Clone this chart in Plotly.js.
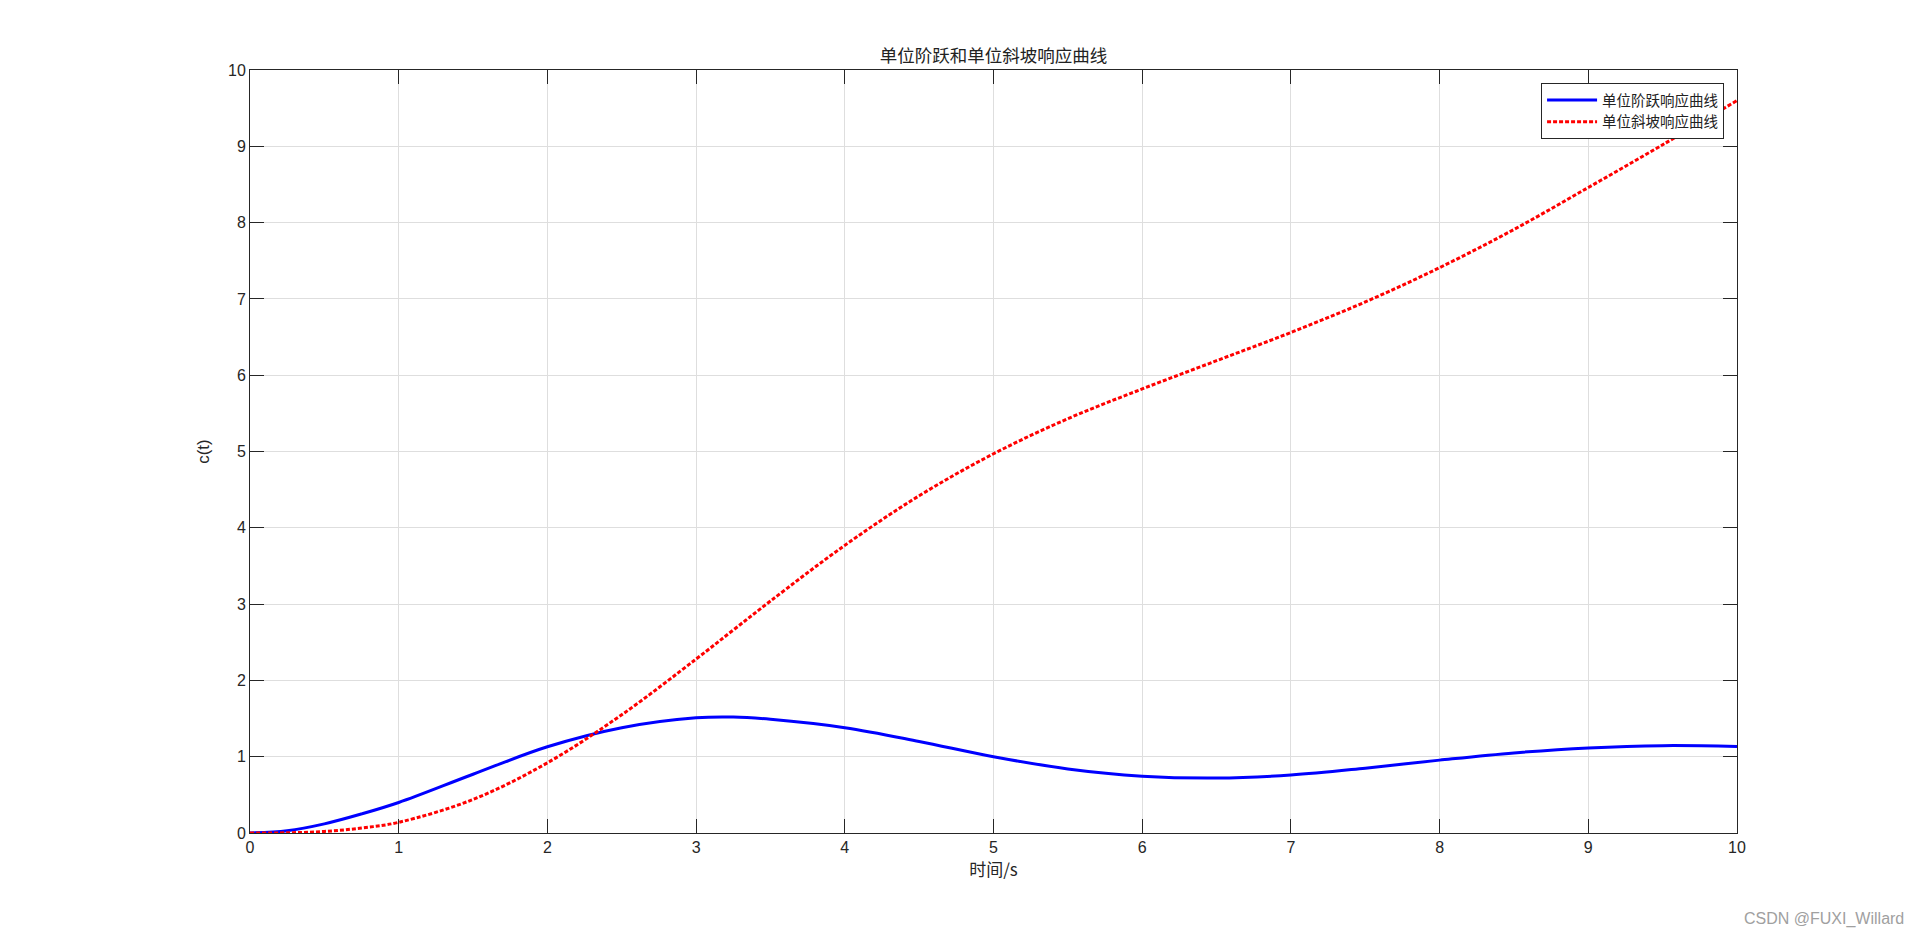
<!DOCTYPE html>
<html>
<head>
<meta charset="utf-8">
<script src="https://cdn.plot.ly/plotly-3.0.1.min.js"></script>
<style>
html,body{margin:0;padding:0;background:#fff;}
#chart{width:1920px;height:937px;}
</style>
</head>
<body>
<div id="chart"></div>
<script>
// time samples (s)
const timeS = [0, 0.25, 0.5, 0.75, 1, 1.5, 2, 2.5, 3, 3.25, 3.5, 4, 4.5, 5, 5.5, 6, 6.5, 7, 7.5, 8, 8.5, 9, 9.5, 10];
// unit step response (blue)
const stepResp = [0, 0.03, 0.12, 0.25, 0.40, 0.77, 1.13, 1.38, 1.51, 1.52, 1.49, 1.38, 1.20, 1.00, 0.84, 0.745, 0.72, 0.76, 0.85, 0.955, 1.05, 1.115, 1.145, 1.135];
// unit ramp response (red dotted)
const rampResp = [0, 0.003, 0.02, 0.065, 0.14, 0.44, 0.92, 1.55, 2.28, 2.66, 3.04, 3.77, 4.42, 4.97, 5.43, 5.82, 6.19, 6.56, 6.96, 7.41, 7.91, 8.46, 9.02, 9.60];
const seriesNames = ['单位阶跃响应曲线', '单位斜坡响应曲线'];
const xTicks = [0,1,2,3,4,5,6,7,8,9,10];
const yTicks = [0,1,2,3,4,5,6,7,8,9,10];

const cjk = '"Noto Sans CJK SC", "Noto Sans", sans-serif';
const latin = 'Arial, "Liberation Sans", Helvetica, sans-serif';
const axisColor = '#262626';

const traces = [
  {
    x: timeS, y: stepResp, name: seriesNames[0], mode: 'lines', type: 'scatter',
    line: {color: '#0000ff', width: 3, shape: 'spline', smoothing: 1}
  },
  {
    x: timeS, y: rampResp, name: seriesNames[1], mode: 'lines', type: 'scatter',
    line: {color: '#ff0000', width: 3, dash: '4px,2px', shape: 'spline', smoothing: 1}
  }
];

const axisCommon = {
  showline: true, linecolor: axisColor, linewidth: 1,
  mirror: 'ticks', ticks: 'inside', ticklen: 14, tickwidth: 1, tickcolor: axisColor,
  showgrid: true, gridcolor: '#dedede', gridwidth: 1,
  zeroline: false,
  tickfont: {family: latin, size: 16, color: axisColor}
};

const layout = {
  width: 1920, height: 937,
  paper_bgcolor: '#ffffff', plot_bgcolor: '#ffffff',
  margin: {l: 250, r: 183, t: 70, b: 104, pad: 0},
  showlegend: true,
  title: {
    text: '单位阶跃和单位斜坡响应曲线',
    font: {family: cjk, size: 17.5, color: '#222'},
    x: 0.5175, xanchor: 'center', y: 0.940, yanchor: 'middle'
  },
  xaxis: Object.assign({}, axisCommon, {
    range: [0, 10], tickvals: xTicks, ticktext: xTicks.map(String),
    title: {text: '时间/s', font: {family: cjk, size: 17, color: axisColor}, standoff: 4}
  }),
  yaxis: Object.assign({}, axisCommon, {
    range: [0, 10], tickvals: yTicks, ticktext: yTicks.map(String),
    title: {text: 'c(t)', font: {family: latin, size: 17, color: axisColor}, standoff: 14}
  }),
  legend: {
    x: 0.9913, xanchor: 'right', y: 0.983, yanchor: 'top',
    bgcolor: '#ffffff', bordercolor: axisColor, borderwidth: 1,
    font: {family: cjk, size: 14.5, color: '#222'},
    itemwidth: 50, tracegroupgap: 0
  },
  annotations: [{
    text: 'CSDN @FUXI_Willard', showarrow: false,
    xref: 'paper', yref: 'paper', x: 1.1137, y: -0.1127,
    xanchor: 'right', yanchor: 'middle',
    font: {family: latin, size: 16, color: '#a0a0a0'}
  }]
};

Plotly.newPlot('chart', traces, layout, {displayModeBar: false, staticPlot: true});
</script>
</body>
</html>
